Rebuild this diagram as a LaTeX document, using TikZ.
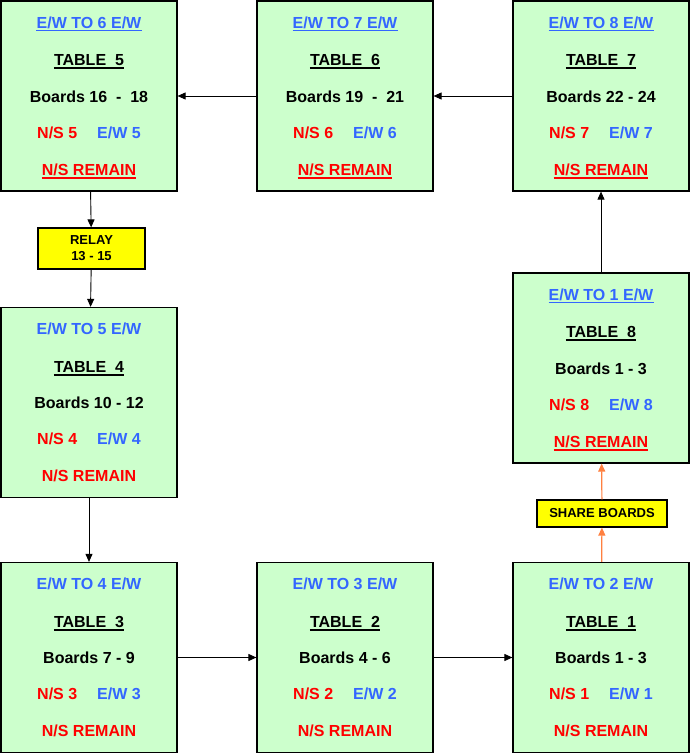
\documentclass[tikz,border=0pt]{standalone}
\usepackage{fontspec}
\setmainfont{Liberation Sans}
\usetikzlibrary{arrows.meta}
\definecolor{boxgreen}{HTML}{CCFFCC}
\definecolor{ewblue}{HTML}{3366FF}
\definecolor{nsred}{HTML}{FF0000}
\definecolor{noteyellow}{HTML}{FFFF00}
\definecolor{sharearrow}{HTML}{FF8040}
\tikzset{
  tablebox/.style={draw=black,line width=1.2pt,fill=boxgreen,minimum width=176pt,minimum height=190pt,inner sep=0pt},
  boxtext/.style={font=\bfseries\fontsize{16}{19}\selectfont,inner sep=0pt,anchor=base},
  notebox/.style={draw=black,line width=1.2pt,fill=noteyellow,font=\bfseries\fontsize{13}{16}\selectfont,align=center,inner sep=0pt},
  flow/.style={draw=black,line width=0.9pt,-{Triangle[length=8pt,width=7pt]}},
  shareflow/.style={draw=sharearrow,line width=1.2pt,-{Triangle[length=8pt,width=7pt]}},
  ulinestyle/.style={line width=1.6pt},
}
\newcommand\tablenode[8]{%
  \node[tablebox] (#1) at (#2,#3) {};
  \node[boxtext,text=ewblue] (#1-move) at ([yshift=-27.8pt]#1.north) {E/W TO #4 E/W};
  \node[boxtext] (#1-table) at ([yshift=-65.5pt]#1.north) {TABLE\ \ #5};
  \node[boxtext] (#1-boards) at ([yshift=-102pt]#1.north) {#6};
  \node[boxtext] (#1-pairs) at ([yshift=-138pt]#1.north) {\textcolor{nsred}{N/S #7}\hspace{20pt}\textcolor{ewblue}{E/W #7}};
  \node[boxtext,text=nsred] (#1-remain) at ([yshift=-175pt]#1.north) {N/S REMAIN};
  \draw[ulinestyle] ([yshift=-2.3pt]#1-table.base west) -- ([yshift=-2.3pt]#1-table.base east);
  \ifnum#8=1
    \draw[ulinestyle,ewblue] ([yshift=-2.3pt]#1-move.base west) -- ([yshift=-2.3pt]#1-move.base east);
    \draw[ulinestyle,nsred] ([yshift=-2.3pt]#1-remain.base west) -- ([yshift=-2.3pt]#1-remain.base east);
  \fi
}
\begin{document}
\begin{tikzpicture}[x=1pt,y=-1pt]
\useasboundingbox (0,0) rectangle (690,754);
\tablenode{T5}{89}{96}{6}{5}{Boards 16\ \ -\ \ 18}{5}{1}
\tablenode{T6}{345}{96}{7}{6}{Boards 19\ \ -\ \ 21}{6}{1}
\tablenode{T7}{601}{96}{8}{7}{Boards 22 - 24}{7}{1}
\tablenode{T8}{601}{368}{1}{8}{Boards 1 - 3}{8}{1}
\tablenode{T4}{89}{402.5}{5}{4}{Boards 10 - 12}{4}{0}
\tablenode{T3}{89}{657.5}{4}{3}{Boards 7 - 9}{3}{0}
\tablenode{T2}{345}{657.5}{3}{2}{Boards 4 - 6}{2}{0}
\tablenode{T1}{601}{657.5}{2}{1}{Boards 1 - 3}{1}{0}
\node[notebox,minimum width=107pt,minimum height=41pt] (relay) at (91.5,248.5) {RELAY\\13 - 15};
\node[notebox,minimum width=130pt,minimum height=27pt] (share) at (602,513.5) {SHARE BOARDS};
\draw[flow] (T7) -- (T6);
\draw[flow] (T6) -- (T5);
\draw[flow] (T5) -- (relay);
\draw[flow] (relay) -- (T4);
\draw[flow] (T4) -- (T3);
\draw[flow] (T3) -- (T2);
\draw[flow] (T2) -- (T1);
\draw[shareflow] (T1) -- (share);
\draw[shareflow] (share) -- (T8);
\draw[flow] (T8) -- (T7);
\end{tikzpicture}
\end{document}
